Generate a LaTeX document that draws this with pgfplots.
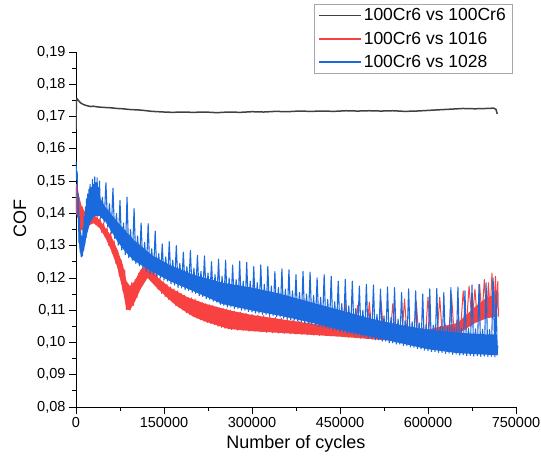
\documentclass[border=0pt]{standalone}
\usepackage{fontspec}
\setmainfont{Liberation Sans}
\usepackage{pgfplots}
\pgfplotsset{compat=1.18}
\definecolor{cgray}{RGB}{64,64,64}
\definecolor{cred}{RGB}{248,66,66}
\definecolor{cblue}{RGB}{26,106,222}
\begin{document}
\begin{tikzpicture}
\begin{axis}[name=ax, at={(0,0)}, anchor=south west,
 scale only axis, width=440pt, height=355pt,
 xmin=0, xmax=750000, ymin=0.08, ymax=0.19,
 axis x line*=bottom, axis y line*=left,
 axis line style={black, line width=0.9pt, -},
 tick align=outside, major tick length=7pt, minor tick length=4pt,
 every tick/.style={black, line width=0.8pt},
 minor x tick num=1, minor y tick num=1,
 xtick={0,150000,300000,450000,600000,750000},
 ytick={0.08,0.09,0.10,0.11,0.12,0.13,0.14,0.15,0.16,0.17,0.18,0.19},
 scaled x ticks=false, scaled y ticks=false,
 xticklabel style={font=\fontsize{14.5}{17}\selectfont, /pgf/number format/.cd, fixed, 1000 sep={}, assume math mode=true},
 yticklabel style={font=\fontsize{14.5}{17}\selectfont, /pgf/number format/.cd, fixed, fixed zerofill, precision=2, use comma, assume math mode=true},
 xlabel={Number of cycles}, ylabel={COF},
 xlabel style={font=\fontsize{18}{21}\selectfont, at={(axis description cs:0.5,-0.0789)}, anchor=north, inner sep=0pt},
 ylabel style={font=\fontsize{18}{21}\selectfont, at={(axis description cs:-0.1273,0.53)}, anchor=center, inner sep=0pt},
 legend style={at={(rel axis cs:0.9909,1.1352)}, anchor=north east, draw=gray!70, font=\fontsize{17.5}{21}\selectfont, inner xsep=4pt, inner ysep=2.5pt, row sep=5.5pt},
 legend cell align=left,
 legend image code/.code={\draw[#1, line width=1.5pt] (0pt,0pt) -- (42pt,0pt);},
]
% gray
\addplot[cgray, line width=1.5pt, line join=round, forget plot] coordinates {
(0,0.1660) (600,0.1745) (1500,0.1756) (3000,0.1752) (5000,0.1748) (8000,0.1742) (12000,0.1738) (16000,0.1735) (20000,0.1733) (25000,0.1731) (30000,0.1732) (36000,0.1730) (42000,0.1729) (50000,0.1728) (60000,0.1727) (70000,0.1725) (80000,0.1724) (90000,0.1722) (100000,0.1721) (110000,0.1720) (120000,0.1718) (130000,0.1716) (140000,0.1715) (150000,0.1714) (165000,0.1713) (180000,0.1714) (200000,0.1713) (220000,0.1714) (240000,0.1712) (260000,0.1714) (280000,0.1713) (300000,0.1715) (320000,0.1714) (340000,0.1716) (360000,0.1715) (380000,0.1717) (400000,0.1716) (420000,0.1717) (440000,0.1716) (460000,0.1718) (480000,0.1717) (500000,0.1718) (520000,0.1717) (540000,0.1718) (560000,0.1716) (580000,0.1717) (600000,0.1719) (620000,0.1721) (640000,0.1723) (660000,0.1725) (680000,0.1724) (700000,0.1725) (712000,0.1726) (716000,0.1722) (718000,0.1708)
};
% red band
\addplot[fill=cred, draw=none, forget plot] coordinates {
(0,0.149) (10000,0.142) (20000,0.139) (30000,0.1394) (40000,0.138) (50000,0.1355) (60000,0.133) (70000,0.129) (80000,0.124) (86000,0.119) (92000,0.1175) (100000,0.119) (110000,0.1225) (120000,0.124) (130000,0.1225) (140000,0.120) (160000,0.117) (190000,0.114) (220000,0.112) (260000,0.110) (300000,0.1085) (380000,0.1064) (450000,0.1045) (520000,0.1035) (600000,0.104) (650000,0.106) (680000,0.111) (700000,0.114) (718000,0.115)
(718000,0.108) (700000,0.1075) (680000,0.106) (650000,0.1025) (600000,0.1003) (520000,0.1008) (450000,0.1018) (380000,0.1026) (300000,0.1035) (260000,0.1042) (220000,0.1065) (200000,0.108) (170000,0.1115) (140000,0.1165) (122000,0.1200) (110000,0.1165) (100000,0.1125) (92000,0.110) (86000,0.1102) (80000,0.116) (70000,0.1235) (60000,0.1285) (50000,0.1325) (40000,0.1355) (30000,0.137) (20000,0.136) (10000,0.135) (0,0.140)
} --cycle;
% red zigzag
\addplot[cred, line width=1pt, line join=round, forget plot] coordinates {
(0,0.141) (1000,0.149) (2000,0.140) (3000,0.147) (4000,0.137) (5000,0.145) (6000,0.135) (7000,0.143) (8000,0.134) (9000,0.141) (10000,0.135) (11000,0.142) (12000,0.136) (13000,0.141) (14000,0.136) (15000,0.140) (16000,0.1355) (17000,0.139) (18000,0.136) (20000,0.139) (22000,0.1365) (24000,0.1392) (26000,0.137) (28000,0.1394) (30000,0.137) (32000,0.1394) (34000,0.1365) (36000,0.139)
(38000,0.1358) (41000,0.1385) (44000,0.1340) (47000,0.1370) (50000,0.1325) (53000,0.1355) (56000,0.1300) (59000,0.1340) (62000,0.1275) (65000,0.1315) (68000,0.1245) (71000,0.1285) (74000,0.1205) (77000,0.1255) (80000,0.1160) (83000,0.1225) (86000,0.1102) (89000,0.1170) (92000,0.1100) (95000,0.1185) (98000,0.1115) (101000,0.1195) (104000,0.1140) (107000,0.1215) (110000,0.1170) (113000,0.1230) (116000,0.1195) (119000,0.1240) (122000,0.1210) (125000,0.1238) (128000,0.1198) (131000,0.1225) (134000,0.1180) (137000,0.1212) (140000,0.1165) (143000,0.1200) (146000,0.1152) (149000,0.1188) (152000,0.1142) (155000,0.1180) (158000,0.1133) (161000,0.1172) (164000,0.1125) (167000,0.1166) (170000,0.1115) (173000,0.1160) (176000,0.1108) (179000,0.1152) (182000,0.1100) (185000,0.1146) (188000,0.1092) (191000,0.1140) (194000,0.1086) (197000,0.1138) (200000,0.1080) (203000,0.1135) (206000,0.1075) (209000,0.1128) (212000,0.1070) (215000,0.1124) (218000,0.1066) (221000,0.1120) (224000,0.1062) (227000,0.1117) (230000,0.1058) (233000,0.1114) (236000,0.1055) (239000,0.1110) (242000,0.1050) (245000,0.1107) (248000,0.1047) (251000,0.1105) (254000,0.1044) (257000,0.1103) (260000,0.1042) (263000,0.1100)
(265000,0.1040) (270000,0.1097) (275000,0.1038) (280000,0.1094) (285000,0.1037) (290000,0.1090) (295000,0.1035) (300000,0.1087) (305000,0.1035) (310000,0.1085) (315000,0.1033) (320000,0.1083) (325000,0.1031) (330000,0.1080) (335000,0.1030) (340000,0.1078) (345000,0.1029) (350000,0.1075) (355000,0.1028) (360000,0.1072) (365000,0.1027) (370000,0.1069) (375000,0.1026) (380000,0.1066) (385000,0.1025) (390000,0.1063) (395000,0.1024) (400000,0.1075) (405000,0.1023) (410000,0.1058) (415000,0.1022) (420000,0.1110) (425000,0.1021) (430000,0.1054) (435000,0.1020) (440000,0.1100) (445000,0.1019) (450000,0.1050) (455000,0.1018) (460000,0.1120) (465000,0.1016) (470000,0.1045) (475000,0.1015) (480000,0.1115) (485000,0.1013) (490000,0.1040) (495000,0.1012) (500000,0.1125) (505000,0.1010) (510000,0.1040) (515000,0.1009) (520000,0.1130) (525000,0.1008) (530000,0.1038) (535000,0.1006) (540000,0.1120) (545000,0.1005) (550000,0.1040) (555000,0.1004) (560000,0.1135) (565000,0.1003) (570000,0.1042) (575000,0.1002) (580000,0.1125) (585000,0.1002) (590000,0.1045) (595000,0.1002) (600000,0.1140) (605000,0.1003) (610000,0.1048) (615000,0.1004) (620000,0.1140) (625000,0.1006) (630000,0.1055) (635000,0.1010) (640000,0.1150) (645000,0.1015) (650000,0.1070) (655000,0.1025) (660000,0.1160) (665000,0.1040) (670000,0.1175) (675000,0.1060) (680000,0.1165) (684000,0.1070) (688000,0.1180) (692000,0.1075) (696000,0.1195) (700000,0.1080) (703000,0.1185) (706000,0.1085) (709000,0.1215) (712000,0.1090) (715000,0.1205) (717000,0.1100) (719000,0.1190) (720000,0.1080)
};
% blue body
\addplot[fill=cblue, draw=none, forget plot] coordinates {
(0,0.155) (2000,0.150) (5000,0.138) (8000,0.131) (10000,0.1295) (14000,0.134) (18000,0.140) (24000,0.144) (32000,0.146) (40000,0.145) (50000,0.142) (70000,0.1375) (100000,0.1315) (130000,0.127) (160000,0.124) (200000,0.121) (250000,0.1185) (300000,0.117) (350000,0.115) (400000,0.1125) (450000,0.110) (500000,0.1075) (550000,0.1055) (600000,0.104) (650000,0.103) (700000,0.1025) (718000,0.1025)
(718000,0.0960) (700000,0.0962) (650000,0.0967) (600000,0.0979) (550000,0.0999) (500000,0.1019) (450000,0.1039) (400000,0.1062) (350000,0.1082) (300000,0.1099) (250000,0.1119) (200000,0.1159) (160000,0.1190) (130000,0.1219) (100000,0.1252) (90000,0.1269) (80000,0.129) (70000,0.1315) (60000,0.1345) (50000,0.1375) (40000,0.1392) (30000,0.139) (24000,0.137) (18000,0.133) (14000,0.129) (10000,0.1268) (8000,0.127) (5000,0.131) (2000,0.150) (0,0.156)
} --cycle;
% blue zigzag
\addplot[cblue, line width=1.1pt, line join=round, forget plot] coordinates {
(0,0.156) (1000,0.1505) (2000,0.153) (3000,0.139) (4000,0.146) (5000,0.131) (6000,0.139) (7000,0.128) (8000,0.134) (9000,0.1265) (10000,0.133) (11000,0.1268) (12000,0.1355) (13000,0.1285) (14000,0.139) (15000,0.1305) (16000,0.142) (17000,0.1325) (18000,0.1445) (19000,0.1345) (20000,0.146) (21000,0.136) (22000,0.1475) (23000,0.1375) (24000,0.149) (25000,0.1385) (26000,0.148) (27000,0.139) (28000,0.1505) (29000,0.1395) (30000,0.149) (31000,0.1398) (32000,0.1513) (33000,0.1399) (34000,0.1495) (35000,0.140) (36000,0.151) (37000,0.1398) (38000,0.148) (39000,0.1393) (40000,0.150)
(42000,0.1385) (45000,0.145) (48000,0.1372) (51000,0.1495)
(54000,0.1358) (57000,0.143) (60000,0.1338) (63000,0.1478)
(66000,0.1322) (69000,0.1400) (72000,0.1302) (75000,0.1440)
(78000,0.1286) (81000,0.1370) (84000,0.1272) (87000,0.1450)
(90000,0.1263) (93000,0.1350) (96000,0.1255) (99000,0.1415)
(102000,0.1244) (105000,0.1330) (108000,0.1237) (111000,0.1370)
(114000,0.1229) (117000,0.1310) (120000,0.1220) (123000,0.1368)
(126000,0.1213) (129000,0.1290) (132000,0.1212) (135000,0.1345)
(138000,0.1204) (141000,0.1275) (144000,0.1200) (147000,0.1305)
(150000,0.1193) (153000,0.1265) (156000,0.1190) (159000,0.1312)
(162000,0.1182) (165000,0.1255) (168000,0.1178) (171000,0.1300)
(174000,0.1170) (177000,0.1245) (180000,0.1169) (183000,0.1280)
(186000,0.1163) (189000,0.1235) (192000,0.1161) (195000,0.1285)
(198000,0.1155) (201000,0.1230) (204000,0.1152) (207000,0.1270)
(210000,0.1145) (213000,0.1220) (216000,0.1142) (219000,0.1268)
(222000,0.1136) (225000,0.1215) (228000,0.1134) (231000,0.1250)
(234000,0.1128) (237000,0.1210) (240000,0.1125) (243000,0.1258)
(246000,0.1118) (249000,0.1205) (252000,0.1115) (255000,0.1255)
(258000,0.1110) (261000,0.1200) (264000,0.1110) (267000,0.1240)
(270000,0.1105) (273000,0.1195) (276000,0.1105) (279000,0.1252)
(282000,0.1100) (285000,0.1190) (288000,0.1100) (291000,0.1248)
(294000,0.1096) (297000,0.1190) (300000,0.1095) (303000,0.1235)
(306000,0.1091) (309000,0.1185) (312000,0.1091) (315000,0.1240)
(318000,0.1087) (321000,0.1180) (324000,0.1087) (327000,0.1236)
(330000,0.1083) (333000,0.1175) (336000,0.1083) (339000,0.1220)
(342000,0.1080) (345000,0.1170) (348000,0.1079) (351000,0.1228)
(354000,0.1075) (357000,0.1165) (360000,0.1074) (363000,0.1225)
(366000,0.1070) (369000,0.1160) (372000,0.1069) (375000,0.1210)
(378000,0.1066) (381000,0.1155) (384000,0.1064) (387000,0.1220)
(390000,0.1060) (393000,0.1150) (396000,0.1059) (399000,0.1218)
(402000,0.1055) (405000,0.1145) (408000,0.1054) (411000,0.1200)
(414000,0.1049) (417000,0.1140) (420000,0.1048) (423000,0.1210)
(426000,0.1045) (429000,0.1133) (432000,0.1043) (435000,0.1205)
(438000,0.1038) (441000,0.1126) (444000,0.1038) (447000,0.1190)
(450000,0.1033) (453000,0.1120) (456000,0.1032) (459000,0.1195)
(462000,0.1028) (465000,0.1113) (468000,0.1028) (471000,0.1190)
(474000,0.1023) (477000,0.1106) (480000,0.1023) (483000,0.1175)
(486000,0.1018) (489000,0.1100) (492000,0.1018) (495000,0.1180)
(498000,0.1014) (501000,0.1092) (504000,0.1013) (507000,0.1178)
(510000,0.1008) (513000,0.1087) (516000,0.1008) (519000,0.1165)
(522000,0.1004) (525000,0.1082) (528000,0.1004) (531000,0.1172)
(534000,0.0999) (537000,0.1077) (540000,0.0999) (543000,0.1170)
(546000,0.0995) (549000,0.1072) (552000,0.0995) (555000,0.1155)
(558000,0.0990) (561000,0.1068) (564000,0.0990) (567000,0.1166)
(570000,0.0986) (573000,0.1064) (576000,0.0985) (579000,0.1160)
(582000,0.0981) (585000,0.1060) (588000,0.0980) (591000,0.1150)
(594000,0.0976) (597000,0.1056) (600000,0.0975) (603000,0.1166)
(606000,0.0972) (609000,0.1053) (612000,0.0972) (615000,0.1167)
(618000,0.0969) (621000,0.1050) (624000,0.0969) (627000,0.1155)
(630000,0.0966) (633000,0.1048) (636000,0.0967) (639000,0.1170)
(642000,0.0963) (645000,0.1046) (648000,0.0964) (651000,0.1172)
(654000,0.0961) (657000,0.1044) (660000,0.0962) (663000,0.1160)
(666000,0.0959) (669000,0.1043) (672000,0.0960) (675000,0.1178)
(678000,0.0958) (681000,0.1042) (684000,0.0959) (687000,0.1180)
(690000,0.0957) (693000,0.1041) (696000,0.0958) (699000,0.1185)
(702000,0.0956) (705000,0.1040) (708000,0.0957) (711000,0.1200)
(714000,0.0955) (716000,0.1160) (718000,0.0962) (719000,0.0990)
};
\addlegendimage{cgray}
\addlegendentry{100Cr6 vs 100Cr6}
\addlegendimage{cred}
\addlegendentry{100Cr6 vs 1016}
\addlegendimage{cblue}
\addlegendentry{100Cr6 vs 1028}
\end{axis}
\pgfresetboundingbox
\path (ax.south west) ++(-76pt,-58pt) rectangle ++(541pt,465pt);
\end{tikzpicture}
\end{document}
